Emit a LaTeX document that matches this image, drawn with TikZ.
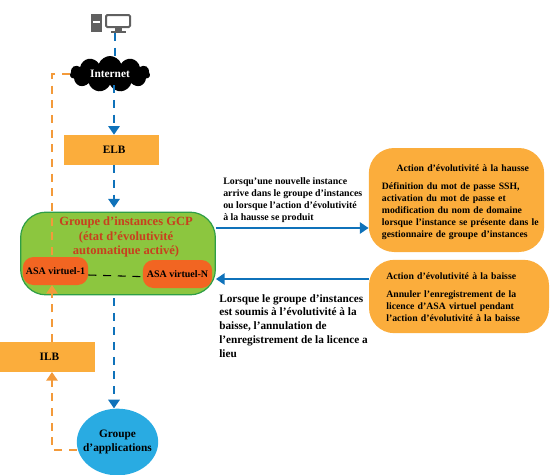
\documentclass[tikz,border=0pt]{standalone}
\usepackage{fontspec}
\setmainfont{Liberation Serif}
\usetikzlibrary{arrows.meta,shapes.geometric,shapes.symbols}

\definecolor{boxorange}{HTML}{FBAD3C}
\definecolor{asared}{HTML}{F26522}
\definecolor{gcpgreen}{HTML}{8CC63F}
\definecolor{gcpedge}{HTML}{2E9E46}
\definecolor{gcptext}{HTML}{C8401E}
\definecolor{linkblue}{HTML}{0F72BA}
\definecolor{linkorange}{HTML}{F39A3A}
\definecolor{appblue}{HTML}{29ABE2}

\newcommand{\bodyind}{\hspace*{7.6pt}}

\tikzset{
  lbbox/.style={fill=boxorange,minimum width=71.25pt,minimum height=22.5pt,inner sep=0pt,font=\fontsize{8.5}{10}\selectfont\bfseries},
  asabox/.style={fill=asared,rounded corners=8pt,minimum height=21pt,inner sep=0pt,font=\fontsize{7.5}{9}\selectfont\bfseries},
  actionbox/.style={fill=boxorange,rounded corners=19pt,inner sep=0pt,align=left,font=\fontsize{7.3}{9}\selectfont\bfseries},
  note/.style={inner sep=0pt,align=left,anchor=north west},
  bluelink/.style={draw=linkblue,line width=1.5pt,dash pattern=on 6pt off 5pt},
  orangelink/.style={draw=linkorange,line width=1.4pt,dash pattern=on 6pt off 5pt},
  tip/.style={-{Triangle[width=8.5pt,length=6.5pt]}}
}

\begin{document}
\begin{tikzpicture}[x=0.75pt,y=-0.75pt]
\useasboundingbox (0,0) rectangle (550,475);

% computer icon
\fill[gray!75!black] (91,14) rectangle (102,32);
\fill[white] (93,21) rectangle (100,23);
\draw[gray!75!black,line width=1.5pt,rounded corners=1pt,fill=white] (106,15) rectangle (130,27);
\fill[gray!75!black] (115,27) rectangle (122,31);
\fill[gray!75!black] (111,31) rectangle (126,33);
\coordinate (pc) at (115,33);

% nodes
\node[cloud,cloud puffs=11,cloud puff arc=140,aspect=2.2,fill=black,text=white,inner sep=0pt,minimum width=60pt,minimum height=27pt,font=\fontsize{8.5}{10}\selectfont\bfseries] (inet) at (110,74) {Internet};
\node[lbbox] (elb) at (111.5,150) {\hspace*{4pt}ELB};
\node[draw=gcpedge,line width=0.9pt,fill=gcpgreen,rounded corners=19pt,minimum width=146pt,minimum height=62pt,inner sep=0pt] (gcp) at (118,253.5) {};
\node[lbbox] (ilb) at (47.5,357) {\hspace*{3pt}ILB};
\node[ellipse,fill=appblue,minimum width=61pt,minimum height=50pt,inner sep=0pt,label={[align=center,font=\fontsize{8.5}{10}\selectfont\bfseries]center:Groupe\\d’applications}] (app) at (117.5,442) {};

% links
\coordinate (mainline) at (114,0);
\draw[bluelink] (pc) -- (inet.north -| pc);
\draw[bluelink,tip] (inet.south -| mainline) -- (elb.north -| mainline);
\draw[bluelink,tip,shorten >=3pt] (elb.south -| mainline) -- (gcp.north -| mainline);
\draw[bluelink,tip,shorten <=2pt] (gcp.south -| mainline) -- (app.north -| mainline);

\node[asabox,minimum width=49pt] (asa1) at (55.5,271) {ASA virtuel-1};
\node[asabox,minimum width=52pt] (asan) at (177.5,274) {ASA virtuel-N};
\draw[black,line width=0.8pt,dash pattern=on 6pt off 5pt] ([yshift=-3pt]asa1.east) -- ([yshift=-2pt]asan.west);

\coordinate (asain) at (52,285);
\draw[orangelink] (inet.west) -| (asa1.north -| asain);
\draw[orangelink,tip] (ilb.north -| asain) -- (asain);
\coordinate (ilbin) at (52,372);
\draw[orangelink,tip] ([yshift=-6pt]app.west) -| (ilbin);

\node[gcptext,align=center,font=\fontsize{9.4}{10.8}\selectfont\bfseries] (gcplabel) at (126,237) {Groupe d’instances GCP\\(état d’évolutivité\\automatique activé)};

% right side
\node[actionbox,minimum width=131.5pt,minimum height=78pt,text width=127pt] (up) at (456.5,200) {\rule{0pt}{9pt}\hspace*{18.5pt}Action d’évolutivité à la hausse\\[4.5pt]\bodyind Définition du mot de passe SSH,\\\bodyind activation du mot de passe et\\\bodyind modification du nom de domaine\\\bodyind lorsque l’instance se présente dans le\\\bodyind gestionnaire de groupe d’instances};
\node[actionbox,minimum width=135pt,minimum height=55pt,text width=121pt] (down) at (459,296.5) {\rule{0pt}{6pt}\hspace*{6pt}Action d’évolutivité à la baisse\\[4pt]\hspace*{6pt}Annuler l’enregistrement de la\\\hspace*{6pt}licence d’ASA virtuel pendant\\\hspace*{6pt}l’action d’évolutivité à la baisse};

\draw[linkblue,line width=1.2pt,tip] (gcp.east |- 0,228) -- (up.west |- 0,228);
\draw[linkblue,line width=1.2pt,tip] (down.west |- 0,279) -- (gcp.east |- 0,279);

\node[note,font=\fontsize{7.4}{9.2}\selectfont\bfseries] (uptext) at (223,177) {Lorsqu’une nouvelle instance\\arrive dans le groupe d’instances\\ou lorsque l’action d’évolutivité\\à la hausse se produit};
\node[note,font=\fontsize{8.45}{10.4}\selectfont\bfseries] (downtext) at (219,294) {Lorsque le groupe d’instances\\est soumis à l’évolutivité à la\\baisse, l’annulation de\\l’enregistrement de la licence a\\lieu};

\end{tikzpicture}
\end{document}
